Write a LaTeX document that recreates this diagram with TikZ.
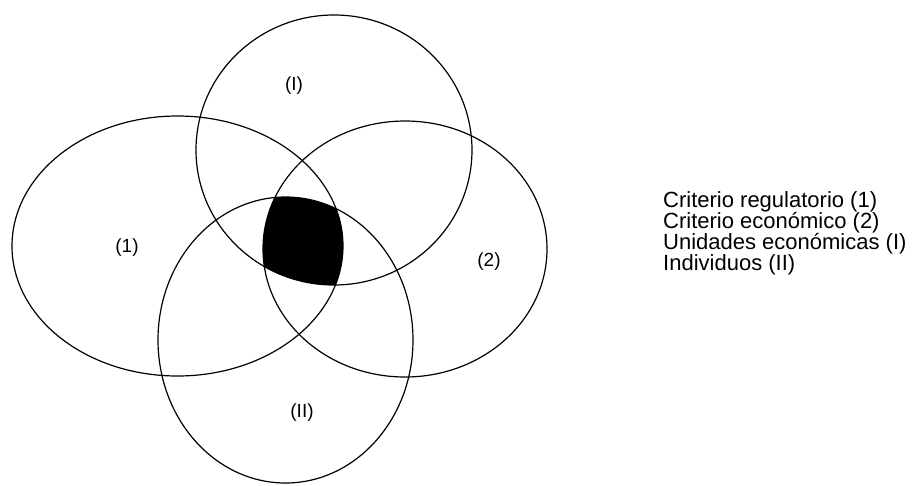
\documentclass[tikz,border=0pt]{standalone}
\usepackage{fontspec}
\setmainfont{Liberation Sans}
\usetikzlibrary{positioning}

\begin{document}
\begin{tikzpicture}[x=1pt,y=-1pt,
 set/.style={draw=black,line width=1.2pt},
 lbl/.style={font=\fontsize{19}{19}\selectfont,inner sep=0pt},
 key/.style={font=\fontsize{22}{21.2}\selectfont,align=left,anchor=west,inner sep=0pt}]
\useasboundingbox (0,0) rectangle (917,485);
\coordinate (regC) at (177.5,246);
\coordinate (ecoC) at (405,249);
\coordinate (uniC) at (334,150);
\coordinate (indC) at (285.5,340);
% common part of the four sets
\begin{scope}
 \clip (regC) ellipse [x radius=165.5pt,y radius=130pt];
 \clip (ecoC) ellipse [x radius=142pt,y radius=128pt];
 \clip (uniC) ellipse [x radius=138pt,y radius=135pt];
 \fill[black] (indC) ellipse [x radius=127.5pt,y radius=143pt];
\end{scope}
\draw[set] (regC) ellipse [x radius=165.5pt,y radius=130pt];
\draw[set] (ecoC) ellipse [x radius=142pt,y radius=128pt];
\draw[set] (uniC) ellipse [x radius=138pt,y radius=135pt];
\draw[set] (indC) ellipse [x radius=127.5pt,y radius=143pt];
\node[lbl] (reg) at (127,248) {(1)};
\node[lbl] (eco) at (489,262) {(2)};
\node[lbl] (uni) at (294,86) {(I)};
\node[lbl] (ind) at (302,413) {(II)};
\node[key] (legend) at (663,233.5) {Criterio regulatorio (1)\\Criterio económico (2)\\Unidades económicas (I)\\Individuos (II)};
\end{tikzpicture}
\end{document}
